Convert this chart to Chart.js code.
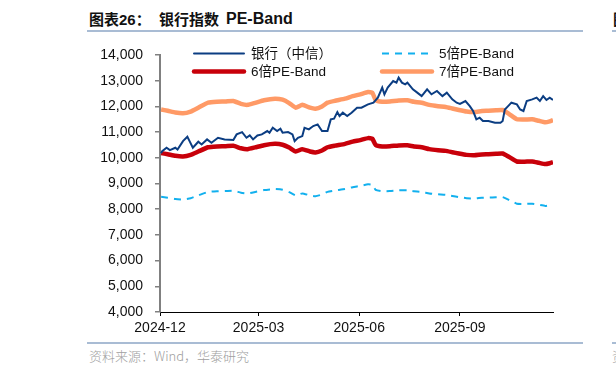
<!DOCTYPE html>
<html>
<head>
<meta charset="utf-8">
<script src="https://cdn.jsdelivr.net/npm/chart.js@4.4.1/dist/chart.umd.min.js"></script>
<style>
  html, body { margin: 0; padding: 0; background: #fff; overflow: hidden; }
  body { width: 616px; height: 374px; position: relative; font-family: "Liberation Sans", Arial, "Noto Sans CJK SC", sans-serif; }
  .t { position: absolute; top: 9px; font-size: 15px; font-weight: bold; color: #111; white-space: nowrap; line-height: 20px; }
  .rule { position: absolute; height: 2px; background: #a9bcd4; }
  .src { position: absolute; top: 347px; font-size: 13px; color: #a0a0a0; white-space: nowrap; line-height: 18px; font-family: "Noto Sans CJK SC", sans-serif; font-weight: 300; }
  #wrap { position: absolute; left: 0; top: 0; width: 616px; height: 374px; }
</style>
</head>
<body>
<div class="t" style="left:89px;font-family:'Noto Sans CJK SC',sans-serif;">图表<span style="font-family:'Liberation Sans',Arial">26</span>：</div>
<div class="t" style="left:159px;font-family:'Noto Sans CJK SC',sans-serif;">银行指数</div>
<div class="t" style="left:226px;font-size:16px;">PE-Band</div>
<div class="t" style="left:613px;font-family:'Noto Sans CJK SC',sans-serif;">图</div>
<div class="rule" style="left:87px;width:496px;top:30px;"></div>
<div class="rule" style="left:612px;width:10px;top:30px;"></div>
<div class="rule" style="left:87px;width:496px;top:342px;"></div>
<div class="rule" style="left:612px;width:10px;top:342px;"></div>
<div class="src" style="left:89px;">资料来源：Wind，华泰研究</div>
<div class="src" style="left:612px;">资</div>
<div id="wrap"><canvas id="chart" width="616" height="374"></canvas></div>
<script>
// x values are days since 2024-12-01
const xTickDays = [0, 90, 182, 274];
const xTickLabels = ["2024-12", "2025-03", "2025-06", "2025-09"];
const yTicks = [4000, 5000, 6000, 7000, 8000, 9000, 10000, 11000, 12000, 13000, 14000];

const seriesNames = ["银行（中信）", "5倍PE-Band", "6倍PE-Band", "7倍PE-Band"];

const bankDays = [1, 2, 6, 9, 14, 16, 21, 25, 27, 30, 35, 38, 43, 47, 53, 59, 67, 70, 75, 79, 82, 85, 89,
  93, 98, 100, 103, 107, 110, 112, 117, 121, 123, 126, 130, 132, 136, 140, 144, 148, 153, 156, 159, 162,
  164, 167, 171, 175, 180, 184, 190, 195, 199, 203, 205, 208, 213, 216, 218, 221, 224, 226, 231, 235, 239,
  244, 248, 253, 258, 262, 267, 271, 274, 279, 283, 286, 289, 292, 295, 300, 306, 311, 313, 315, 318, 321,
  326, 329, 332, 335, 340, 344, 347, 350, 353, 356, 359];
const bankValues = [10180, 10260, 10390, 10300, 10390, 10320, 10650, 10820, 10650, 10390, 10625, 10520, 10715,
  10585, 10780, 10715, 10690, 10910, 11000, 10780, 10870, 10715, 10870,
  10910, 11040, 10975, 11170, 11040, 11130, 10975, 11000, 10910, 10650, 10780, 10845, 11170, 11105, 11235,
  11300, 11040, 11040, 11495, 11520, 11780, 11625, 11755, 11625, 11755, 11950, 11950, 12080, 12145, 12340,
  12730, 12470, 12730, 12985, 12925, 13120, 12925, 12860, 12925, 12665, 12535, 12400, 12665, 12470, 12600,
  12400, 12535, 12275, 12145, 12100, 12210, 12010, 11820, 11495, 11560, 11430, 11430, 11365, 11365, 11430,
  11880, 12010, 12145, 12080, 11880, 11820, 12210, 12275, 12340, 12210, 12400, 12250, 12340, 12250];

const bandDays = [1, 7, 14, 21, 28, 35, 44, 52, 60, 67, 74, 80, 87, 95, 105, 112, 118, 124, 130, 137, 142, 148,
  153, 160, 169, 176, 183, 190, 194, 197, 203, 210, 218, 226, 232, 239, 246, 254, 261, 267, 273, 280, 287,
  294, 300, 307, 313, 319, 326, 333, 340, 346, 352, 356, 359];
const band5 = [8486, 8450, 8400, 8379, 8429, 8536, 8675, 8700, 8707, 8721, 8643, 8614, 8671, 8743, 8786, 8757,
  8664, 8536, 8614, 8536, 8507, 8571, 8675, 8729, 8786, 8857, 8907, 8971, 8950, 8750, 8700, 8707, 8736, 8739,
  8700, 8675, 8614, 8579, 8557, 8514, 8471, 8429, 8414, 8443, 8450, 8464, 8471, 8357, 8214, 8207, 8214, 8171,
  8129, 8157, 8193];
const band6 = [10183, 10140, 10080, 10054, 10114, 10243, 10410, 10440, 10449, 10466, 10371, 10337, 10406, 10491,
  10543, 10509, 10397, 10243, 10337, 10243, 10209, 10286, 10410, 10474, 10543, 10629, 10689, 10766, 10740,
  10500, 10440, 10449, 10483, 10487, 10440, 10410, 10337, 10294, 10269, 10217, 10166, 10114, 10097, 10131,
  10140, 10157, 10166, 10029, 9857, 9849, 9857, 9806, 9754, 9789, 9831];
const band7 = [11880, 11830, 11760, 11730, 11800, 11950, 12145, 12180, 12190, 12210, 12100, 12060, 12140, 12240,
  12300, 12260, 12130, 11950, 12060, 11950, 11910, 12000, 12145, 12220, 12300, 12400, 12470, 12560, 12530,
  12250, 12180, 12190, 12230, 12235, 12180, 12145, 12060, 12010, 11980, 11920, 11860, 11800, 11780, 11820,
  11830, 11850, 11860, 11700, 11500, 11490, 11500, 11440, 11380, 11420, 11470];

const toPoints = (days, values) => days.map((d, i) => ({ x: d, y: values[i] }));

// legend drawn at fixed spots, two columns by two rows
const legendPlugin = {
  id: "pairLegend",
  afterDraw(chart) {
    const ctx = chart.ctx;
    const spots = [[194, 53.5], [382, 53.5], [194, 71.5], [382, 71.5]];
    chart.data.datasets.forEach((ds, i) => {
      const [x, y] = spots[i];
      ctx.save();
      ctx.strokeStyle = ds.borderColor;
      ctx.lineWidth = ds.borderWidth;
      ctx.setLineDash(ds.borderDash || []);
      ctx.lineCap = ds.borderDash ? "butt" : "round";
      ctx.beginPath();
      ctx.moveTo(x, y);
      ctx.lineTo(x + 50, y);
      ctx.stroke();
      ctx.setLineDash([]);
      ctx.fillStyle = "#111";
      ctx.font = "13.5px 'Liberation Sans', Arial, 'Noto Sans CJK SC'";
      ctx.textBaseline = "middle";
      ctx.fillText(ds.label, x + 57, y + 1);
      ctx.restore();
    });
  }
};

new Chart(document.getElementById("chart"), {
  type: "line",
  data: {
    datasets: [
      {
        label: seriesNames[0],
        data: toPoints(bankDays, bankValues),
        borderColor: "#0b3d82",
        borderWidth: 2,
        tension: 0
      },
      {
        label: seriesNames[1],
        data: toPoints(bandDays, band5),
        borderColor: "#12b0ee",
        borderWidth: 2,
        borderDash: [7, 6],
        tension: 0.15
      },
      {
        label: seriesNames[2],
        data: toPoints(bandDays, band6),
        borderColor: "#c8000a",
        borderWidth: 4.5,
        tension: 0.15
      },
      {
        label: seriesNames[3],
        data: toPoints(bandDays, band7),
        borderColor: "#ff9a66",
        borderWidth: 4.5,
        tension: 0.15
      }
    ]
  },
  options: {
    responsive: false,
    animation: false,
    layout: { padding: { top: 55, right: 63, bottom: 0, left: 0 } },
    elements: { point: { radius: 0 } },
    plugins: { legend: { display: false }, tooltip: { enabled: false } },
    scales: {
      x: {
        type: "linear",
        min: 0,
        max: 359,
        afterFit: (scale) => { scale.height = 62; },
        afterBuildTicks: (scale) => { scale.ticks = xTickDays.map((v) => ({ value: v })); },
        grid: { drawOnChartArea: false, tickLength: 4, color: "#000" },
        border: { color: "#000", width: 1 },
        ticks: {
          padding: 4,
          maxRotation: 0,
          autoSkip: false,
          color: "#111",
          font: { family: "'Liberation Sans', Arial", size: 14 },
          callback: (value, index) => xTickLabels[index]
        }
      },
      y: {
        min: 4000,
        max: 14000,
        afterFit: (scale) => { scale.width = 160; },
        afterBuildTicks: (scale) => { scale.ticks = yTicks.map((v) => ({ value: v })); },
        grid: { drawOnChartArea: false, tickLength: 5, color: "#808080", lineWidth: 1.5 },
        border: { color: "#808080", width: 2 },
        ticks: {
          padding: 12,
          color: "#111",
          font: { family: "'Liberation Sans', Arial", size: 14 },
          callback: (value) => String(value).replace(/\B(?=(\d{3})+(?!\d))/g, ",")
        }
      }
    }
  },
  plugins: [legendPlugin]
});
</script>
</body>
</html>
